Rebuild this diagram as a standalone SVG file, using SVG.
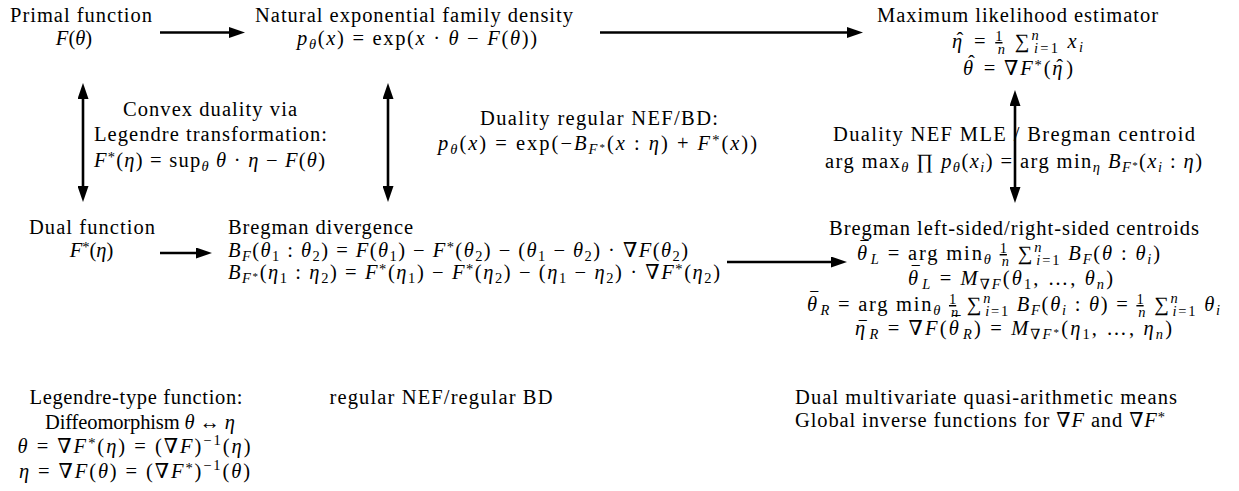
<svg xmlns="http://www.w3.org/2000/svg" width="1239" height="491" viewBox="0 0 1239 491" font-family="Liberation Serif, Times New Roman, DejaVu Serif, serif" font-size="20.5">
<style>
.t{font-size:20.5px;fill:#000}
.c{text-anchor:middle}
.i{font-style:italic}
.sm{font-size:14.5px}
.xs{font-size:11px}
.mac{font-size:16px}
.conn{stroke:#000;stroke-width:2.6;fill:none}
</style>
<defs>
<marker id="ah" viewBox="0 0 16 11" refX="6" refY="5.5" markerWidth="16" markerHeight="11" markerUnits="userSpaceOnUse" orient="auto-start-reverse"><path d="M0,0 L16,5.5 L0,11 z" fill="#000"/></marker>
</defs>
<rect width="1239" height="491" fill="#fff"/>
<g id="connectors">
<path class="conn" d="M160,32.5 H235" marker-end="url(#ah)"/>
<path class="conn" d="M600,32.5 H853" marker-end="url(#ah)"/>
<path class="conn" d="M83,93 V192" marker-start="url(#ah)" marker-end="url(#ah)"/>
<path class="conn" d="M388,93 V192" marker-start="url(#ah)" marker-end="url(#ah)"/>
<path class="conn" d="M1015,100 V193" marker-start="url(#ah)" marker-end="url(#ah)"/>
<path class="conn" d="M160,253 H202" marker-end="url(#ah)"/>
<path class="conn" d="M727,262 H837" marker-end="url(#ah)"/>
</g>
<g id="primal">
<text class="t c" x="81" y="21.7" textLength="142" lengthAdjust="spacing">Primal function</text>
<text class="t c" x="74" y="45"><tspan class="i">F</tspan>(<tspan class="i">θ</tspan>)</text>
</g>
<g id="nef">
<text class="t c" x="414" y="21.7" textLength="318" lengthAdjust="spacing">Natural exponential family density</text>
<text class="t c" x="417" y="45" textLength="240" lengthAdjust="spacing"><tspan class="i">p</tspan><tspan class="sm i" dy="4">θ</tspan><tspan dy="-4">(</tspan><tspan class="i">x</tspan>) = exp(<tspan class="i">x</tspan> · <tspan class="i">θ</tspan> − <tspan class="i">F</tspan>(<tspan class="i">θ</tspan>))</text>
</g>
<g id="mle">
<text class="t c" x="1017.5" y="21.7" textLength="281" lengthAdjust="spacing">Maximum likelihood estimator</text>
<text class="t c" x="1017.5" y="48" textLength="131" lengthAdjust="spacing"><tspan class="i">η</tspan><tspan dx="-8" dy="-1">ˆ</tspan><tspan dx="1.2" dy="1"> = </tspan><tspan class="sm" dy="-7" text-decoration="underline">1</tspan><tspan class="sm i" dx="-7" dy="13">n</tspan><tspan dy="-6"> ∑</tspan><tspan class="sm i" dy="-8">n</tspan><tspan class="sm i" dx="-7" dy="13">i</tspan><tspan class="sm">=1</tspan><tspan dy="-5"> </tspan><tspan class="i">x</tspan><tspan class="sm i" dy="4">i</tspan></text>
<text class="t c" x="1018" y="75" textLength="110" lengthAdjust="spacing"><tspan class="i">θ</tspan><tspan dx="-7" dy="-5">ˆ</tspan><tspan dx="0.2" dy="5"> = ∇</tspan><tspan class="i">F</tspan><tspan class="sm" dy="-5">*</tspan><tspan dy="5">(</tspan><tspan class="i">η</tspan><tspan dx="-8" dy="-1">ˆ</tspan><tspan dx="1.2" dy="1">)</tspan></text>
</g>
<g id="convex-duality">
<text class="t c" x="210" y="116" textLength="174" lengthAdjust="spacing">Convex duality via</text>
<text class="t c" x="210.5" y="141" textLength="233" lengthAdjust="spacing">Legendre transformation:</text>
<text class="t c" x="209.5" y="166.5" textLength="231" lengthAdjust="spacing"><tspan class="i">F</tspan><tspan class="sm" dy="-5">*</tspan><tspan dy="5">(</tspan><tspan class="i">η</tspan>) = sup<tspan class="sm i" dy="4">θ</tspan><tspan dy="-4"> </tspan><tspan class="i">θ</tspan> · <tspan class="i">η</tspan> − <tspan class="i">F</tspan>(<tspan class="i">θ</tspan>)</text>
</g>
<g id="duality-nef-bd">
<text class="t c" x="599" y="124.5" textLength="238" lengthAdjust="spacing">Duality regular NEF/BD:</text>
<text class="t c" x="597.5" y="149.5" textLength="319" lengthAdjust="spacing"><tspan class="i">p</tspan><tspan class="sm i" dy="4">θ</tspan><tspan dy="-4">(</tspan><tspan class="i">x</tspan>) = exp(−<tspan class="i">B</tspan><tspan class="sm i" dy="4">F</tspan><tspan class="xs" dy="-3">*</tspan><tspan dy="-1">(</tspan><tspan class="i">x</tspan> : <tspan class="i">η</tspan>) + <tspan class="i">F</tspan><tspan class="sm" dy="-5">*</tspan><tspan dy="5">(</tspan><tspan class="i">x</tspan>))</text>
</g>
<g id="duality-mle-centroid">
<text class="t c" x="1014" y="141" textLength="362" lengthAdjust="spacing">Duality NEF MLE / Bregman centroid</text>
<text class="t c" x="1013.5" y="168" textLength="377" lengthAdjust="spacing">arg max<tspan class="sm i" dy="4">θ</tspan><tspan dy="-4"> ∏ </tspan><tspan class="i">p</tspan><tspan class="sm i" dy="4">θ</tspan><tspan dy="-4">(</tspan><tspan class="i">x</tspan><tspan class="sm i" dy="4">i</tspan><tspan dy="-4">) = arg min</tspan><tspan class="sm i" dy="4">η</tspan><tspan dy="-4"> </tspan><tspan class="i">B</tspan><tspan class="sm i" dy="4">F</tspan><tspan class="xs" dy="-3">*</tspan><tspan dy="-1">(</tspan><tspan class="i">x</tspan><tspan class="sm i" dy="4">i</tspan><tspan dy="-4"> : </tspan><tspan class="i">η</tspan>)</text>
</g>
<g id="dual">
<text class="t c" x="92" y="234" textLength="126" lengthAdjust="spacing">Dual function</text>
<text class="t c" x="91.5" y="256.5"><tspan class="i">F</tspan><tspan class="sm" dy="-5">*</tspan><tspan dy="5">(</tspan><tspan class="i">η</tspan>)</text>
</g>
<g id="bregman">
<text class="t" x="228" y="234" textLength="185" lengthAdjust="spacing">Bregman divergence</text>
<text class="t" x="228" y="256.5" textLength="460" lengthAdjust="spacing"><tspan class="i">B</tspan><tspan class="sm i" dy="4">F</tspan><tspan dy="-4">(</tspan><tspan class="i">θ</tspan><tspan class="sm" dy="4">1</tspan><tspan dy="-4"> : </tspan><tspan class="i">θ</tspan><tspan class="sm" dy="4">2</tspan><tspan dy="-4">) = </tspan><tspan class="i">F</tspan>(<tspan class="i">θ</tspan><tspan class="sm" dy="4">1</tspan><tspan dy="-4">) − </tspan><tspan class="i">F</tspan><tspan class="sm" dy="-5">*</tspan><tspan dy="5">(</tspan><tspan class="i">θ</tspan><tspan class="sm" dy="4">2</tspan><tspan dy="-4">) − (</tspan><tspan class="i">θ</tspan><tspan class="sm" dy="4">1</tspan><tspan dy="-4"> − </tspan><tspan class="i">θ</tspan><tspan class="sm" dy="4">2</tspan><tspan dy="-4">) · ∇</tspan><tspan class="i">F</tspan>(<tspan class="i">θ</tspan><tspan class="sm" dy="4">2</tspan><tspan dy="-4">)</tspan></text>
<text class="t" x="228" y="279" textLength="492" lengthAdjust="spacing"><tspan class="i">B</tspan><tspan class="sm i" dy="4">F</tspan><tspan class="xs" dy="-3">*</tspan><tspan dy="-1">(</tspan><tspan class="i">η</tspan><tspan class="sm" dy="4">1</tspan><tspan dy="-4"> : </tspan><tspan class="i">η</tspan><tspan class="sm" dy="4">2</tspan><tspan dy="-4">) = </tspan><tspan class="i">F</tspan><tspan class="sm" dy="-5">*</tspan><tspan dy="5">(</tspan><tspan class="i">η</tspan><tspan class="sm" dy="4">1</tspan><tspan dy="-4">) − </tspan><tspan class="i">F</tspan><tspan class="sm" dy="-5">*</tspan><tspan dy="5">(</tspan><tspan class="i">η</tspan><tspan class="sm" dy="4">2</tspan><tspan dy="-4">) − (</tspan><tspan class="i">η</tspan><tspan class="sm" dy="4">1</tspan><tspan dy="-4"> − </tspan><tspan class="i">η</tspan><tspan class="sm" dy="4">2</tspan><tspan dy="-4">) · ∇</tspan><tspan class="i">F</tspan><tspan class="sm" dy="-5">*</tspan><tspan dy="5">(</tspan><tspan class="i">η</tspan><tspan class="sm" dy="4">2</tspan><tspan dy="-4">)</tspan></text>
</g>
<g id="centroids">
<text class="t c" x="1014" y="235" textLength="370" lengthAdjust="spacing">Bregman left-sided/right-sided centroids</text>
<text class="t c" x="1008.5" y="260" textLength="303" lengthAdjust="spacing"><tspan class="i">θ</tspan><tspan class="mac" dx="-8.5" dy="-7">¯</tspan><tspan class="sm i" dx="0.5" dy="11">L</tspan><tspan dy="-4"> = arg min</tspan><tspan class="sm i" dy="4">θ</tspan><tspan dy="-4"> </tspan><tspan class="sm" dy="-7" text-decoration="underline">1</tspan><tspan class="sm i" dx="-7" dy="13">n</tspan><tspan dy="-6"> ∑</tspan><tspan class="sm i" dy="-8">n</tspan><tspan class="sm i" dx="-7" dy="13">i</tspan><tspan class="sm">=1</tspan><tspan dy="-5"> </tspan><tspan class="i">B</tspan><tspan class="sm i" dy="4">F</tspan><tspan dy="-4">(</tspan><tspan class="i">θ</tspan> : <tspan class="i">θ</tspan><tspan class="sm i" dy="4">i</tspan><tspan dy="-4">)</tspan></text>
<text class="t c" x="1010.5" y="285" textLength="205" lengthAdjust="spacing"><tspan class="i">θ</tspan><tspan class="mac" dx="-8.5" dy="-7">¯</tspan><tspan class="sm i" dx="0.5" dy="11">L</tspan><tspan dy="-4"> = </tspan><tspan class="i">M</tspan><tspan class="sm" dy="4">∇</tspan><tspan class="sm i">F</tspan><tspan dy="-4">(</tspan><tspan class="i">θ</tspan><tspan class="sm" dy="4">1</tspan><tspan dy="-4">, …, </tspan><tspan class="i">θ</tspan><tspan class="sm i" dy="4">n</tspan><tspan dy="-4">)</tspan></text>
<text class="t c" x="1013.5" y="311" textLength="413" lengthAdjust="spacing"><tspan class="i">θ</tspan><tspan class="mac" dx="-8.5" dy="-7">¯</tspan><tspan class="sm i" dx="0.5" dy="11">R</tspan><tspan dy="-4"> = arg min</tspan><tspan class="sm i" dy="4">θ</tspan><tspan dy="-4"> </tspan><tspan class="sm" dy="-7" text-decoration="underline">1</tspan><tspan class="sm i" dx="-7" dy="13">n</tspan><tspan dy="-6"> ∑</tspan><tspan class="sm i" dy="-8">n</tspan><tspan class="sm i" dx="-7" dy="13">i</tspan><tspan class="sm">=1</tspan><tspan dy="-5"> </tspan><tspan class="i">B</tspan><tspan class="sm i" dy="4">F</tspan><tspan dy="-4">(</tspan><tspan class="i">θ</tspan><tspan class="sm i" dy="4">i</tspan><tspan dy="-4"> : </tspan><tspan class="i">θ</tspan>) = <tspan class="sm" dy="-7" text-decoration="underline">1</tspan><tspan class="sm i" dx="-7" dy="13">n</tspan><tspan dy="-6"> ∑</tspan><tspan class="sm i" dy="-8">n</tspan><tspan class="sm i" dx="-7" dy="13">i</tspan><tspan class="sm">=1</tspan><tspan dy="-5"> </tspan><tspan class="i">θ</tspan><tspan class="sm i" dy="4">i</tspan></text>
<text class="t c" x="1013.5" y="335" textLength="317" lengthAdjust="spacing"><tspan class="i">η</tspan><tspan class="mac" dx="-8.5" dy="-2.5">¯</tspan><tspan class="sm i" dx="0.5" dy="6.5">R</tspan><tspan dy="-4"> = ∇</tspan><tspan class="i">F</tspan>(<tspan class="i">θ</tspan><tspan class="mac" dx="-8.5" dy="-7">¯</tspan><tspan class="sm i" dx="0.5" dy="11">R</tspan><tspan dy="-4">) = </tspan><tspan class="i">M</tspan><tspan class="sm" dy="4">∇</tspan><tspan class="sm i">F</tspan><tspan class="xs" dy="-3">*</tspan><tspan dy="-1">(</tspan><tspan class="i">η</tspan><tspan class="sm" dy="4">1</tspan><tspan dy="-4">, …, </tspan><tspan class="i">η</tspan><tspan class="sm i" dy="4">n</tspan><tspan dy="-4">)</tspan></text>
</g>
<g id="legendre-type">
<text class="t c" x="136" y="404" textLength="213" lengthAdjust="spacing">Legendre-type function:</text>
<text class="t c" x="140" y="428.5" textLength="190" lengthAdjust="spacing">Diffeomorphism <tspan class="i">θ</tspan> ↔ <tspan class="i">η</tspan></text>
<text class="t c" x="134" y="453" textLength="233" lengthAdjust="spacing"><tspan class="i">θ</tspan> = ∇<tspan class="i">F</tspan><tspan class="sm" dy="-5">*</tspan><tspan dy="5">(</tspan><tspan class="i">η</tspan>) = (∇<tspan class="i">F</tspan>)<tspan class="sm" dy="-8">−1</tspan><tspan dy="8">(</tspan><tspan class="i">η</tspan>)</text>
<text class="t c" x="134.5" y="477.5" textLength="231" lengthAdjust="spacing"><tspan class="i">η</tspan> = ∇<tspan class="i">F</tspan>(<tspan class="i">θ</tspan>) = (∇<tspan class="i">F</tspan><tspan class="sm" dy="-5">*</tspan><tspan dy="5">)</tspan><tspan class="sm" dy="-8">−1</tspan><tspan dy="8">(</tspan><tspan class="i">θ</tspan>)</text>
</g>
<g id="regular">
<text class="t c" x="441" y="404" textLength="223" lengthAdjust="spacing">regular NEF/regular BD</text>
</g>
<g id="means">
<text class="t" x="795" y="404" textLength="382" lengthAdjust="spacing">Dual multivariate quasi-arithmetic means</text>
<text class="t" x="795" y="427" textLength="370" lengthAdjust="spacing">Global inverse functions for ∇<tspan class="i">F</tspan> and ∇<tspan class="i">F</tspan><tspan class="sm" dy="-5">*</tspan></text>
</g>
</svg>
